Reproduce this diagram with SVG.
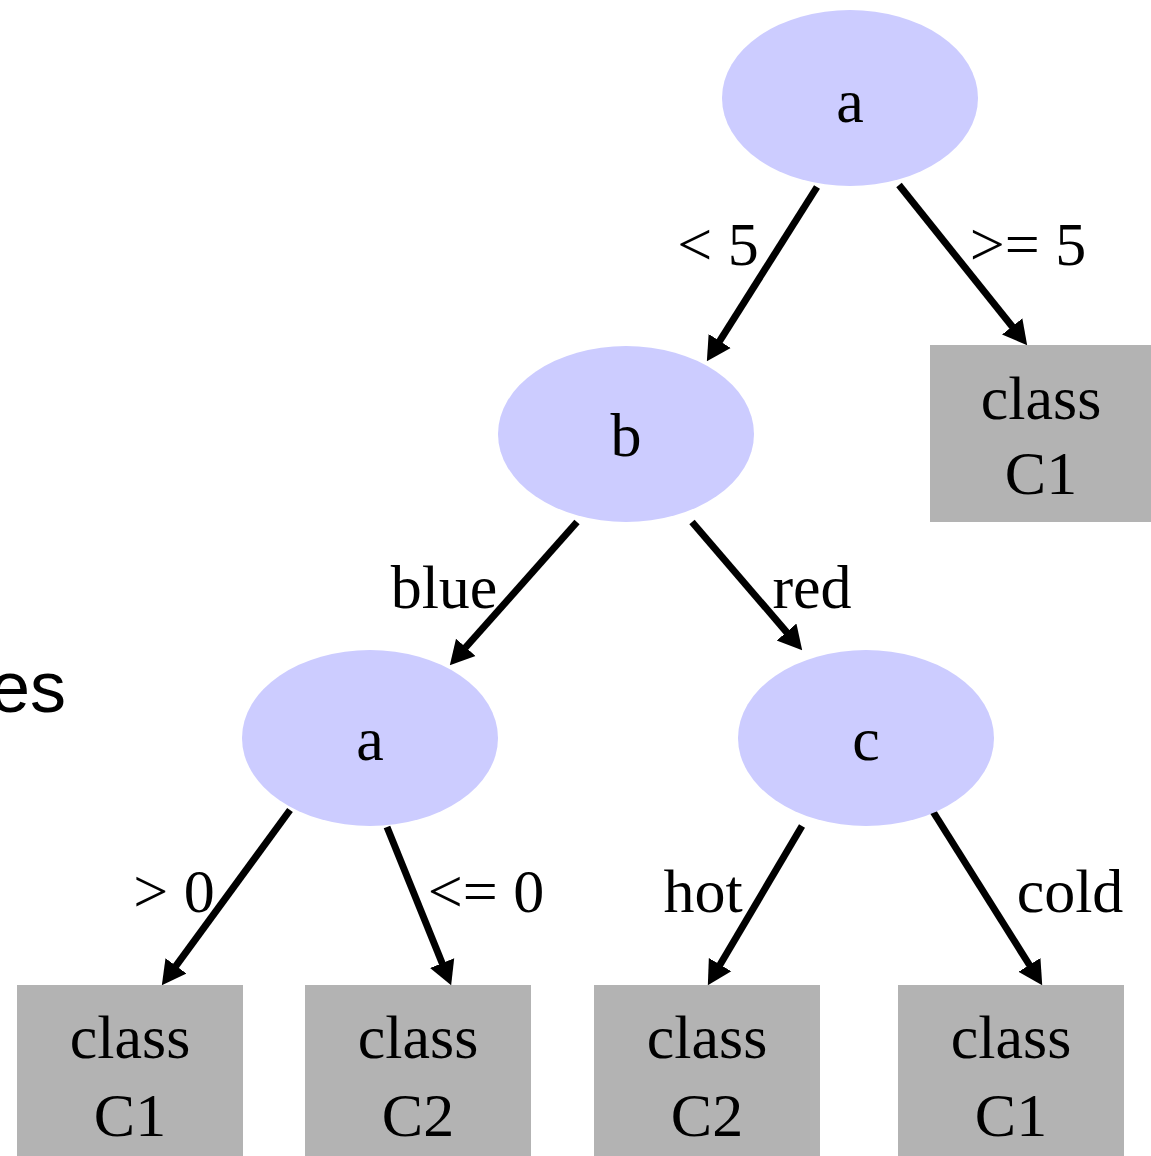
<svg xmlns="http://www.w3.org/2000/svg" width="1151" height="1156" viewBox="0 0 1151 1156">
<style>
.n{fill:#ccccff}
.b{fill:#b3b3b3}
.t{font-family:"Liberation Serif","Times New Roman",serif;font-size:62px;fill:#000;text-anchor:middle}
.l{font-family:"Liberation Serif","Times New Roman",serif;font-size:62px;fill:#000;text-anchor:middle}
.e{stroke:#000;stroke-width:7;fill:none;marker-end:url(#ah)}
</style>
<defs>
<marker id="ah" viewBox="0 -2 3.43 4" refX="0.1" refY="0" markerWidth="3.43" markerHeight="4" orient="auto" markerUnits="strokeWidth">
<path d="M0,-1.86 L3.43,0 L0,1.86 z" fill="#000"/>
</marker>
</defs>
<rect width="1151" height="1156" fill="#fff"/>
<text x="66" y="712" style="font-family:'Liberation Sans',Arial,sans-serif;font-size:72px;text-anchor:end">es</text>
<g id="connectors">
<line class="e" x1="817" y1="187" x2="719.3" y2="341.6"/>
<line class="e" x1="899" y1="185" x2="1012.6" y2="327"/>
<line class="e" x1="577" y1="522" x2="465.3" y2="647.8"/>
<line class="e" x1="692" y1="522" x2="787" y2="632.6"/>
<line class="e" x1="290" y1="810" x2="175.6" y2="966.4"/>
<line class="e" x1="387" y1="827" x2="442.4" y2="963.7"/>
<line class="e" x1="802" y1="826" x2="719.7" y2="965.2"/>
<line class="e" x1="932" y1="810" x2="1029.8" y2="965.5"/>
<text class="l" x="718" y="265">&lt; 5</text>
<text class="l" x="1028" y="265">&gt;= 5</text>
<text class="l" x="444" y="608">blue</text>
<text class="l" x="812" y="608">red</text>
<text class="l" x="174" y="912">&gt; 0</text>
<text class="l" x="486" y="912">&lt;= 0</text>
<text class="l" x="703" y="912">hot</text>
<text class="l" x="1070" y="912">cold</text>
</g>
<g id="node-a1"><ellipse class="n" cx="850" cy="98" rx="128" ry="88"/><text class="t" x="850" y="122">a</text></g>
<g id="node-b"><ellipse class="n" cx="626" cy="434" rx="128" ry="88"/><text class="t" x="626" y="456">b</text></g>
<g id="node-a2"><ellipse class="n" cx="370" cy="738" rx="128" ry="88"/><text class="t" x="370" y="760">a</text></g>
<g id="node-c"><ellipse class="n" cx="866" cy="738" rx="128" ry="88"/><text class="t" x="866" y="760">c</text></g>
<g id="leaf-r"><rect class="b" x="930" y="345" width="221" height="177"/><text class="t" x="1041" y="419">class</text><text class="t" x="1041" y="494">C1</text></g>
<g id="leaf-1"><rect class="b" x="17" y="985" width="226" height="171"/><text class="t" x="130" y="1058">class</text><text class="t" x="130" y="1136">C1</text></g>
<g id="leaf-2"><rect class="b" x="305" y="985" width="226" height="171"/><text class="t" x="418" y="1058">class</text><text class="t" x="418" y="1136">C2</text></g>
<g id="leaf-3"><rect class="b" x="594" y="985" width="226" height="171"/><text class="t" x="707" y="1058">class</text><text class="t" x="707" y="1136">C2</text></g>
<g id="leaf-4"><rect class="b" x="898" y="985" width="226" height="171"/><text class="t" x="1011" y="1058">class</text><text class="t" x="1011" y="1136">C1</text></g>
</svg>
